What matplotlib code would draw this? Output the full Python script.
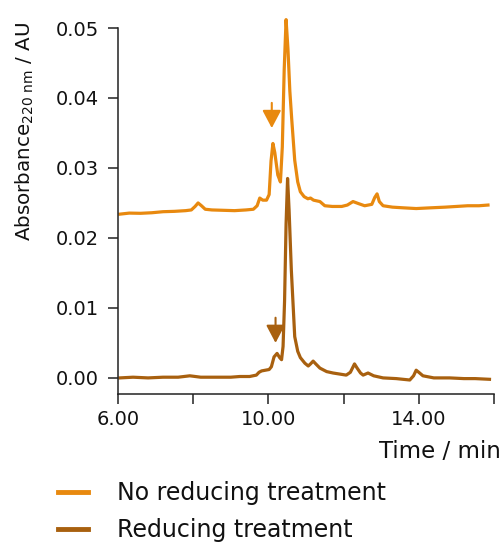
import matplotlib
matplotlib.use("Agg")
import matplotlib.pyplot as plt
from matplotlib.ticker import FixedLocator, NullFormatter

# ---- data ----
t_no_red = [6.05, 6.3, 6.6, 6.9, 7.2, 7.5, 7.8, 7.95, 8.05, 8.13, 8.22, 8.32, 8.5, 8.8,
            9.1, 9.4, 9.6, 9.7, 9.77, 9.85, 9.95, 10.02, 10.07, 10.12, 10.17, 10.25,
            10.32, 10.37, 10.42, 10.47, 10.52, 10.57, 10.62, 10.70, 10.78, 10.85,
            10.95, 11.05, 11.12, 11.2, 11.37, 11.5, 11.7, 11.95, 12.1, 12.25, 12.4,
            12.56, 12.75, 12.83, 12.89, 12.95, 13.05, 13.3, 13.6, 13.93, 14.3, 14.7,
            15.0, 15.3, 15.6, 15.84]
a_no_red = [0.0234, 0.02355, 0.02352, 0.0236, 0.02375, 0.0238, 0.0239, 0.0240, 0.0245,
            0.0250, 0.0246, 0.0241, 0.0240, 0.02395, 0.0239, 0.0240, 0.0241, 0.0246,
            0.0257, 0.0254, 0.0254, 0.0262, 0.0310, 0.0335, 0.0322, 0.0290, 0.0280,
            0.0330, 0.0440, 0.0512, 0.0470, 0.0410, 0.0370, 0.0311, 0.0280, 0.0266,
            0.0259, 0.0256, 0.0257, 0.0254, 0.0252, 0.0246, 0.0245, 0.0245, 0.0247,
            0.0252, 0.0249, 0.0246, 0.0248, 0.0258, 0.0263, 0.0252, 0.0246, 0.0244,
            0.0243, 0.0242, 0.0243, 0.0244, 0.0245, 0.0246, 0.0246, 0.0247]

t_red = [6.05, 6.4, 6.8, 7.2, 7.6, 7.91, 8.2, 8.6, 9.0, 9.24, 9.5, 9.68, 9.75, 9.82,
         9.92, 10.02, 10.08, 10.15, 10.23, 10.30, 10.35, 10.39, 10.43, 10.47, 10.51,
         10.55, 10.61, 10.70, 10.78, 10.85, 10.97, 11.06, 11.12, 11.19, 11.26, 11.37,
         11.55, 11.72, 12.07, 12.18, 12.29, 12.36, 12.45, 12.52, 12.65, 12.8, 13.05,
         13.4, 13.76, 13.86, 13.93, 14.0, 14.11, 14.4, 14.82, 15.2, 15.5, 15.88]
a_red = [0.0000, 0.0001, 0.0000, 0.0001, 0.0001, 0.0003, 0.0001, 0.0001, 0.0001, 0.0002,
         0.0002, 0.0004, 0.0008, 0.0010, 0.0011, 0.0012, 0.0016, 0.0030, 0.0035, 0.0029,
         0.0026, 0.0045, 0.0110, 0.0220, 0.0285, 0.0240, 0.0154, 0.0059, 0.0038, 0.0029,
         0.0021, 0.0017, 0.0020, 0.0024, 0.0020, 0.0014, 0.0009, 0.0007, 0.0004, 0.0008,
         0.0020, 0.0014, 0.0007, 0.0004, 0.0007, 0.0003, 0.0000, -0.0001, -0.0003, 0.0003,
         0.0011, 0.0008, 0.0003, 0.0000, 0.0000, -0.0001, -0.0001, -0.0002]

# arrow annotations: (time, top, tip)
arrow_no_red = (10.09, 0.0393, 0.0357)
arrow_red = (10.19, 0.0086, 0.0050)

labels = ["No reducing treatment", "Reducing treatment"]
x_major = [6, 10, 14]
x_minor = [8, 12, 16]
x_ticklabels = ["6.00", "10.00", "14.00"]
y_ticks = [0.00, 0.01, 0.02, 0.03, 0.04, 0.05]
y_ticklabels = ["0.00", "0.01", "0.02", "0.03", "0.04", "0.05"]

c_orange = "#E8890F"
c_brown = "#A8600F"
c_axis = "#222222"

plt.rcParams['font.family'] = ['DejaVu Sans']

fig = plt.figure(figsize=(5.02, 5.45), dpi=100)
ax = fig.add_axes([118/502, 1-394/545, (494-118)/502, (394-28)/545])

l1, = ax.plot(t_no_red, a_no_red, color=c_orange, lw=2.3, solid_joinstyle='round',
              clip_on=False)
l2, = ax.plot(t_red, a_red, color=c_brown, lw=2.3, solid_joinstyle='round',
              clip_on=False)

for (tx, top, tip), col in [(arrow_no_red, c_orange), (arrow_red, c_brown)]:
    ax.annotate("", xy=(tx, tip), xytext=(tx, top),
                arrowprops=dict(arrowstyle="-|>,head_width=0.38,head_length=0.72",
                                color=col, lw=1.5, mutation_scale=15,
                                shrinkA=0, shrinkB=0))

ax.set_xlim(6, 16)
ax.set_ylim(-0.0023, 0.05)
ax.spines['top'].set_visible(False)
ax.spines['right'].set_visible(False)
for s in ['left', 'bottom']:
    ax.spines[s].set_linewidth(1.1)
    ax.spines[s].set_color(c_axis)

ax.xaxis.set_major_locator(FixedLocator(x_major))
ax.set_xticklabels(x_ticklabels)
ax.xaxis.set_minor_locator(FixedLocator(x_minor))
ax.xaxis.set_minor_formatter(NullFormatter())
ax.set_yticks(y_ticks)
ax.set_yticklabels(y_ticklabels)
ax.tick_params(axis='both', which='both', direction='out', length=7, width=1.1,
               color=c_axis, labelsize=14, labelcolor='#111111')
ax.tick_params(axis='y', pad=7)
ax.tick_params(axis='x', pad=4.5)

fig.text(501/502, 1-452/545, "Time / min", ha='right', va='center',
         fontsize=16.5, color='#111111')
fig.text(25/502, 1-131/545, r"Absorbance$_{\mathregular{220\ nm}}$ / AU",
         rotation=90, ha='center', va='center', fontsize=14.3, color='#111111')

fig.legend(handles=[l1, l2], labels=labels, loc='upper left',
           bbox_to_anchor=(58/502, 1-481/545), frameon=False, fontsize=17,
           handlelength=1.25, handletextpad=1.25, labelspacing=0.55,
           borderpad=0, borderaxespad=0)
for h in fig.legends[0].legend_handles:
    h.set_linewidth(3.5)
for t in fig.legends[0].get_texts():
    t.set_color('#111111')

fig.savefig("out.png", dpi=100)
